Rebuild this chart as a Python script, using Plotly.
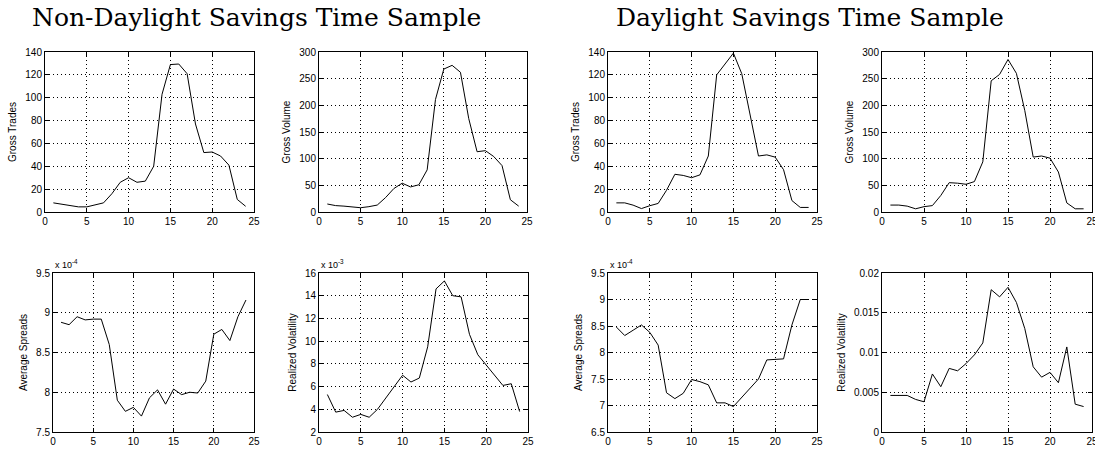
import plotly.graph_objects as go
from plotly.subplots import make_subplots

hours = list(range(1, 25))

# Non-daylight savings time sample
trades_ndst = [8, 7, 6, 4.5, 4.5, 6.5, 8, 16, 26, 30, 26, 27, 40, 103, 129, 129.5, 121, 77, 52, 52.5, 49, 41, 11, 5]
volume_ndst = [15, 12, 11, 9, 8, 10, 13, 27, 44, 54, 47, 51, 79, 211, 268, 275, 262, 175, 113, 115, 104, 87, 23, 11]
spreads_ndst = [8.88, 8.85, 8.95, 8.91, 8.92, 8.92, 8.60, 7.90, 7.76, 7.81, 7.70, 7.93, 8.03, 7.85, 8.04, 7.97,
                8.00, 7.99, 8.14, 8.73, 8.79, 8.65, 8.95, 9.16]  # x 1e-4
vol_ndst = [5.3, 3.75, 3.9, 3.3, 3.55, 3.3, 4.0, 5.0, 6.0, 7.0, 6.4, 6.75, 9.5, 14.6, 15.3, 14.0, 13.9, 10.6,
            8.8, 7.9, 6.9, 6.1, 6.25, 3.8]  # x 1e-3

# Daylight savings time sample
trades_dst = [8, 8, 6, 3, 5.5, 7.5, 19, 33, 32, 30, 32.5, 49, 120, 129, 139, 121, 86, 49, 50, 48, 37, 10, 4, 4]
volume_dst = [13, 13, 11, 6, 10, 12, 31, 55, 54, 52, 57, 94, 246, 258, 286, 260, 190, 103, 105, 101, 75, 17, 6, 6]
spreads_dst = [8.48, 8.32, 8.42, 8.52, 8.38, 8.14, 7.24, 7.13, 7.23, 7.49, 7.45, 7.39, 7.05, 7.05, 6.98, 7.15,
               7.33, 7.50, 7.86, 7.87, 7.88, 8.52, 9.0, 9.0]  # x 1e-4
vol_dst = [0.0046, 0.0046, 0.0046, 0.0041, 0.0038, 0.0073, 0.0057, 0.0080, 0.0077, 0.0086, 0.0097, 0.0112,
           0.0179, 0.0170, 0.0182, 0.0163, 0.0130, 0.0082, 0.0069, 0.0075, 0.0062, 0.0107, 0.0035, 0.0032]

W, H = 1095, 451

# (series, y label, y range, tick values, tick labels, exponent note)
panels = [
    (trades_ndst, 'Gross Trades', [0, 140], [0, 20, 40, 60, 80, 100, 120, 140], None, None),
    (volume_ndst, 'Gross Volume', [0, 300], [0, 50, 100, 150, 200, 250, 300], None, None),
    (trades_dst, 'Gross Trades', [0, 140], [0, 20, 40, 60, 80, 100, 120, 140], None, None),
    (volume_dst, 'Gross Volume', [0, 300], [0, 50, 100, 150, 200, 250, 300], None, None),
    (spreads_ndst, 'Average Spreads', [7.5, 9.5], [7.5, 8, 8.5, 9, 9.5], ['7.5', '8', '8.5', '9', '9.5'], '-4'),
    (vol_ndst, 'Realized Volatility', [2, 16], [2, 4, 6, 8, 10, 12, 14, 16], None, '-3'),
    (spreads_dst, 'Average Spreads', [6.5, 9.5], [6.5, 7, 7.5, 8, 8.5, 9, 9.5],
     ['6.5', '7', '7.5', '8', '8.5', '9', '9.5'], '-4'),
    (vol_dst, 'Realized Volatility', [0, 0.02], [0, 0.005, 0.01, 0.015, 0.02],
     ['0', '0.005', '0.01', '0.015', '0.02'], None),
]

# plot areas in pixels: (left, right, top, bottom)
boxes = [
    (45, 254, 52, 212), (319, 527, 52, 212), (608, 817, 52, 212), (882, 1092, 52, 212),
    (53, 254, 273, 432), (319, 528, 273, 432), (608, 817, 273, 432), (882, 1092, 273, 432),
]

fig = make_subplots(rows=2, cols=4)
font = dict(family='Liberation Sans', size=10, color='black')

for i, (vals, label, yr, tv, tt, expo) in enumerate(panels):
    r, c = i // 4 + 1, i % 4 + 1
    fig.add_trace(go.Scatter(x=hours, y=vals, mode='lines', line=dict(color='black', width=1),
                             showlegend=False, hoverinfo='skip'), row=r, col=c)
    l, rt, t, b = boxes[i]
    ax = dict(showline=True, linecolor='black', linewidth=1, mirror='ticks', ticks='inside',
              ticklen=4, tickcolor='black', showgrid=True, gridcolor='black', griddash='1px,3px',
              gridwidth=1, zeroline=False, tickfont=font, automargin=False, ticklabeloverflow='allow')
    fig.update_xaxes(ax, range=[0, 25], tickvals=[0, 5, 10, 15, 20, 25], domain=[l / W, rt / W], row=r, col=c)
    yax = dict(ax, range=yr, tickvals=tv, domain=[1 - b / H, 1 - t / H],
               title=dict(text=label, font=font, standoff=6))
    if tt:
        yax['ticktext'] = tt
    fig.update_yaxes(yax, row=r, col=c)
    if expo:
        fig.add_annotation(x=l / W, y=1 - (t - 1) / H, xref='paper', yref='paper', xanchor='left',
                           yanchor='bottom', showarrow=False, font=dict(font, size=9),
                           text='x 10<sup>' + expo + '</sup>')

titles = ['Non-Daylight Savings Time Sample', 'Daylight Savings Time Sample']
for txt, cx in zip(titles, [256, 810]):
    fig.add_annotation(x=cx / W, y=1 - 17 / H, xref='paper', yref='paper', xanchor='center',
                       yanchor='middle', showarrow=False, text=txt,
                       font=dict(family='DejaVu Serif', size=25, color='black'))

fig.update_layout(width=W, height=H, margin=dict(l=0, r=0, t=0, b=0),
                  plot_bgcolor='white', paper_bgcolor='white')
# drop the default 8px page margin so the figure fills the window exactly
fig.write_html("out.html", config={'displayModeBar': False},
               post_script="document.body.style.margin = '0px';")
